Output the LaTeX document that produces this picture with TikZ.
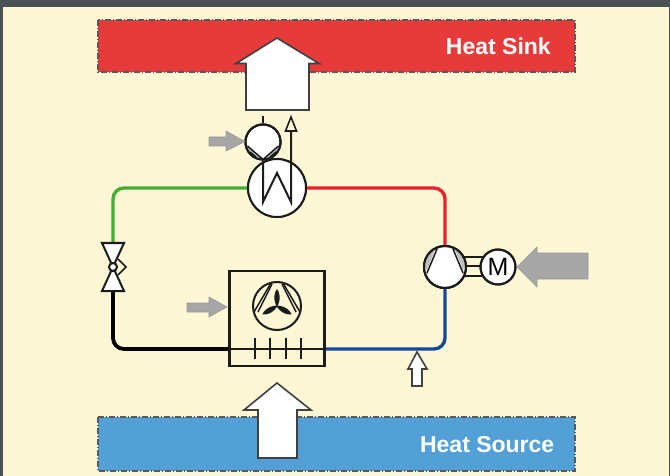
\documentclass[tikz,border=0pt]{standalone}
\usepackage{fontspec}
\setmainfont{Liberation Sans}
\definecolor{bgc}{HTML}{FDF7D6}
\definecolor{framec}{HTML}{4A5255}
\definecolor{sinkc}{HTML}{E63B3A}
\definecolor{sourcec}{HTML}{52A0D6}
\definecolor{greyarrow}{HTML}{A6A6A6}
\definecolor{edgec}{HTML}{1C1C1C}
\definecolor{pipegreen}{HTML}{45AC34}
\definecolor{pipered}{HTML}{E8222A}
\definecolor{pipeblue}{HTML}{14479E}
\tikzset{
  band/.style={draw=black!65,line width=1.4pt,dash pattern=on 6pt off 2pt on 1pt off 2pt},
  bandlabel/.style={text=white,font=\bfseries\fontsize{23}{23}\selectfont,anchor=east,inner sep=0pt},
  sym/.style={draw=edgec,line width=2pt,circle,fill=white,inner sep=0pt},
  ring/.style={draw=edgec,line width=2pt,circle,inner sep=0pt},
  line/.style={draw=edgec,line width=2pt,line join=miter},
  thinline/.style={draw=edgec,line width=1.5pt},
  pipe/.style={line width=3.4pt,rounded corners=11pt},
  whitearrow/.style={draw=black!75,fill=white,line width=1.6pt,line join=miter},
  greyshape/.style={fill=greyarrow,draw=black!40,line width=.6pt},
  lens/.style={fill=black!25},
}
\begin{document}
\begin{tikzpicture}[x=1pt,y=-1pt]
\useasboundingbox (0,0) rectangle (670,476);
\fill[framec] (0,0) rectangle (670,476);
\fill[bgc] (3,7) rectangle (669,476);
% bands
\path[fill=sinkc,band] (98,20) rectangle (575,72);
\path[fill=sourcec,band] (98,417) rectangle (575,471);
\node[bandlabel] (sink) at (551,46.5) {Heat Sink};
\node[bandlabel] (source) at (554.5,444.5) {Heat Source};
% symbols as anchors
\node[sym,minimum size=58pt] (hx) at (277,188) {};
\node[sym,minimum size=42pt] (comp) at (445,267) {};
\node[sym,minimum size=35pt,font=\fontsize{25}{25}\selectfont] (motor) at (498,267) {M};
\node[sym,minimum size=35pt] (pump) at (263,142) {};
\node[draw=edgec,line width=2.2pt,minimum width=95pt,minimum height=95pt,inner sep=0pt] (evap) at (277,318.5) {};
\coordinate (valvetop) at (113,243);
\coordinate (valvemid) at (113,267);
\coordinate (valvebot) at (113,291);
% pipes
\draw[pipe,pipegreen] (hx.west) -| (valvetop);
\draw[pipe,pipered] (hx.east) -| (comp.north);
\draw[pipe,pipeblue] (comp.south) |- (evap.east |- 0,349);
\draw[pipe,black,line width=3.8pt] (valvebot) |- (evap.west |- 0,349);
\draw[line,line width=1.4pt] (evap.west |- 0,349) -- (evap.east |- 0,349);
\foreach \x in {255,270,286,301}
  \draw[line] (\x,338) -- (\x,359);
% redraw round symbols over pipes
\node[sym,minimum size=58pt] at (hx) {};
\node[sym,minimum size=35pt] at (pump) {};
\node[sym,minimum size=42pt] at (comp) {};
% valve
\path[line,fill=white] (102,243) -- (124,243) -- (102,291) -- (124,291) -- cycle;
\draw[thinline] (118,259) -- (126,267) -- (118,275);
\node[sym,minimum size=8pt] (valveball) at (valvemid) {};
% pump interior
\begin{scope}
  \clip (pump) circle (17);
  \fill[lens] (245,144) -- (263,159) -- (281,144) -- (281,162) -- (245,162) -- cycle;
\end{scope}
\draw[thinline] (247.5,146) -- (263,159.5) -- (278.5,146);
\draw[thinline] (250,152) -- (256,157);
\draw[thinline] (276,152) -- (270,157);
\node[ring,minimum size=35pt] at (pump) {};
\coordinate (pumpstub) at (263,116);
\draw[line] (pumpstub) -- (pump.north);
% condenser coil
\draw[line] (263,161) -- (263,202) -- (277,173) -- (291,202) -- (291,130);
\path[line,fill=bgc,line width=1.6pt] (291,117) -- (296.5,131) -- (285.5,131) -- cycle;
% compressor interior
\begin{scope}
  \clip (comp) circle (20.5);
  \fill[lens] (436,247) -- (427,270) -- (420,260) -- cycle;
  \fill[lens] (454,247) -- (463,270) -- (470,260) -- cycle;
\end{scope}
\draw[thinline] (437,249) -- (427,273);
\draw[thinline] (453,249) -- (463,273);
\node[ring,minimum size=42pt] at (comp) {};
% shaft
\draw[thinline] (462,257) -- (484,257);
\draw[thinline] (465,266) -- (481,266);
\draw[thinline] (463,276) -- (483,276);
\node[ring,minimum size=35pt] at (motor) {};
% fan
\node[ring,minimum size=48pt] (fan) at (277,306) {};
\draw[thinline] (271,283) -- (254,312);
\draw[thinline] (283,283) -- (300,312);
\draw[thinline] (272,284) -- (258,312);
\draw[thinline] (282,284) -- (296,312);
\foreach \a in {0,120,240}
  \fill[edgec,rotate around={\a:(fan)}] (277,307) .. controls (272.5,299) and (274.5,292) .. (277,289) .. controls (279.5,292) and (281.5,299) .. (277,307) -- cycle;
% white arrows
\path[whitearrow] (277,38) -- (319,63.5) -- (309,63.5) -- (309,110) -- (246,110) -- (246,63.5) -- (236,63.5) -- cycle;
\path[whitearrow] (277,383) -- (311,410) -- (297,410) -- (297,458) -- (258,458) -- (258,410) -- (244,410) -- cycle;
\path[whitearrow] (417,352) -- (427,369) -- (422,369) -- (422,386) -- (412,386) -- (412,369) -- (408,369) -- cycle;
% grey arrows
\path[greyshape] (209,137) -- (226,137) -- (226,131) -- (245,141.5) -- (226,151) -- (226,146) -- (209,146) -- cycle;
\path[greyshape] (187,303) -- (209,303) -- (209,297) -- (227,307) -- (209,317) -- (209,312) -- (187,312) -- cycle;
\path[greyshape] (588,253) -- (537,253) -- (537,247) -- (517,267) -- (537,287) -- (537,279) -- (588,279) -- cycle;
\end{tikzpicture}
\end{document}
